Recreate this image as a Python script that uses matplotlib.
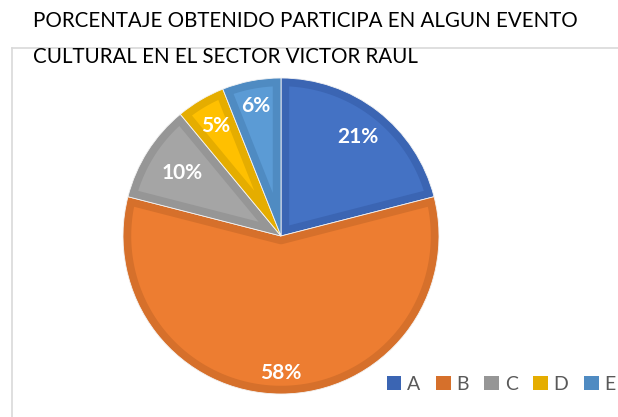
import numpy as np
import matplotlib
matplotlib.use('Agg')
import matplotlib.pyplot as plt
from matplotlib.patches import Patch, Polygon
from matplotlib.lines import Line2D

categories = ['A', 'B', 'C', 'D', 'E']
values = [21, 58, 10, 5, 6]
fills = ['#4472C4', '#ED7D31', '#A5A5A5', '#FFC000', '#5B9BD5']
edges = ['#3B65B3', '#D6702B', '#969696', '#E5AD00', '#4F8BC2']
label_r = [0.79, 0.87, 0.74, 0.81, 0.84]

title_lines = ['PORCENTAJE OBTENIDO PARTICIPA EN ALGUN EVENTO',
               'CULTURAL EN EL SECTOR VICTOR RAUL']

W, H = 618, 417
BORDER = 0.052  # width of the darker rim, in pie radii


def inset_wedge(t1, t2, R, d):
    # t1 < t2 in degrees (counterclockwise); inner region at distance d from the slice edges
    a1, a2 = np.deg2rad(t1), np.deg2rad(t2)
    half = (a2 - a1) / 2
    mid = (a1 + a2) / 2
    da = np.arcsin(d / (R - d))
    arc = np.linspace(a1 + da, a2 - da, 120)
    pts = [((R - d) * np.cos(t), (R - d) * np.sin(t)) for t in arc]
    if half < np.pi / 2:
        s = d / np.sin(half)
        pts.append((s * np.cos(mid), s * np.sin(mid)))
    else:
        # reflex slice: rounded corner around the centre
        corner = np.linspace(a2 - np.pi / 2, a1 + np.pi / 2, 40)
        pts += [(d * np.cos(t), d * np.sin(t)) for t in corner]
    return np.array(pts)


fig = plt.figure(figsize=(W / 100, H / 100), dpi=100)

# chart frame (only top and left edges fall inside the picture)
fig.add_artist(Line2D([12 / W, 12 / W], [0, 1 - 48 / H], color='#D9D9D9', lw=1.2))
fig.add_artist(Line2D([12 / W, 1], [1 - 48 / H, 1 - 48 / H], color='#D9D9D9', lw=1.2))

ax = fig.add_axes([123 / W, 23 / H, 316 / W, 316 / H])
wedges, _ = ax.pie(values, colors=edges, startangle=90, counterclock=False, radius=1,
                   wedgeprops=dict(linewidth=0.6, edgecolor='#F4F4F4'))
for w, fc in zip(wedges, fills):
    ax.add_patch(Polygon(inset_wedge(w.theta1, w.theta2, w.r, BORDER),
                         closed=True, facecolor=fc, edgecolor='none'))

total = sum(values)
start = 90.0
for v, r in zip(values, label_r):
    ang = np.deg2rad(start - v / total * 360 / 2)
    ax.text(r * np.cos(ang), r * np.sin(ang), '%d%%' % v, ha='center', va='center',
            color='white', fontsize=15, fontweight='bold', family='Lato')
    start -= v / total * 360
ax.set_xlim(-1, 1)
ax.set_ylim(-1, 1)
ax.set_aspect('equal')
ax.axis('off')

for i, line in enumerate(title_lines):
    fig.text(33 / W, 1 - (27 + 36 * i) / H, line, ha='left', va='baseline',
             fontsize=14.8, family='Lato', color='#000000')

handles = [Patch(facecolor=c, edgecolor='none') for c in edges]
fig.legend(handles, categories, loc='center left', bbox_to_anchor=(377 / W, 1 - 384 / H),
           ncol=5, frameon=False, handlelength=0.75, handleheight=0.75,
           handletextpad=0.3, columnspacing=0.8, borderpad=0, labelcolor='#595959',
           prop={'family': 'Lato', 'size': 14})

fig.savefig('out.png', dpi=100)
